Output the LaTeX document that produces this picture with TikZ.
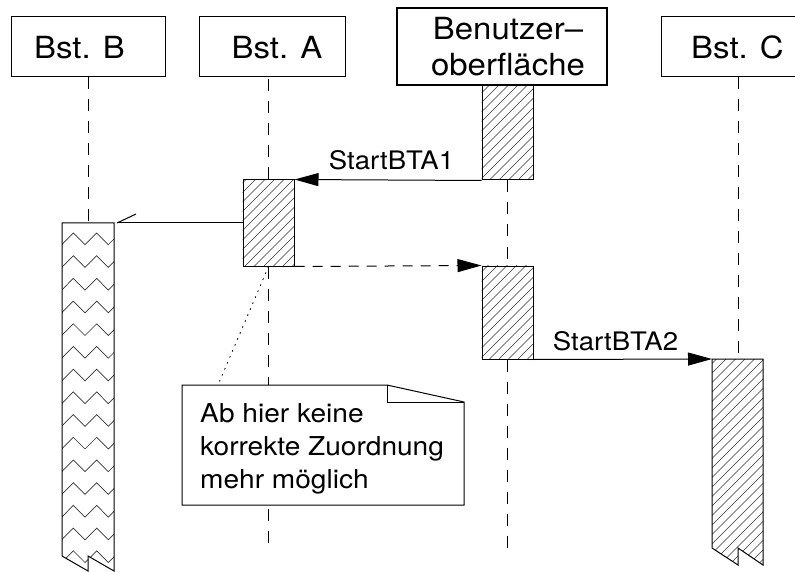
\documentclass[tikz,border=0pt]{standalone}
\usepackage{fontspec}
\setmainfont{TeX Gyre Heros}
\usetikzlibrary{arrows.meta}
\newcommand{\sx}[1]{\scalebox{1.08}[1]{#1}}
\newcommand{\hatchlines}[3]{\foreach \k in {0,...,#3}{\draw[hatchline] ({#1+9.5*\k},#2) -- ++(260,-260);}}
\begin{document}
\begin{tikzpicture}[x=1pt,y=-1pt,
  hdlbl/.style={inner sep=0pt, anchor=base, font=\fontsize{30.5}{36}\selectfont},
  msglbl/.style={inner sep=0pt, anchor=base, font=\fontsize{25.5}{30}\selectfont},
  notelbl/.style={inner sep=0pt, anchor=base west, font=\fontsize{26}{30}\selectfont},
  headbox/.style={draw, line width=1pt, inner sep=0pt},
  actbox/.style={draw, line width=1pt, inner sep=0pt, minimum width=51pt},
  life/.style={line width=0.9pt, dash pattern=on 12pt off 10pt},
  hatchline/.style={line width=0.6pt, black!80},
  zig/.style={line width=0.7pt, black!80},
  msg/.style={line width=1pt, -{Triangle[length=24pt,width=13pt]}},
]
\useasboundingbox (0,0) rectangle (795,572);

% header boxes
\node[headbox, minimum width=154pt, minimum height=60pt] (hB) at (88,47) {};
\node[headbox, minimum width=146pt, minimum height=60pt] (hA) at (272,47) {};
\node[headbox, line width=2.5pt, minimum width=210pt, minimum height=77pt] (hU) at (502,46.5) {};
\draw[line width=1pt] (800,17) -- (661,17) coordinate (hCtl) -- (661,77) coordinate (hCbl) -- (800,77);
\coordinate (hC) at (738,77);

\node[hdlbl] (tB) at (79.5,59) {\sx{Bst. B}};
\node[hdlbl] (tA) at (277,59) {\sx{Bst. A}};
\node[hdlbl] (tU1) at (508,40) {\sx{Benutzer–}};
\node[hdlbl] (tU2) at (508,76) {\sx{oberfläche}};
\node[hdlbl] (tC) at (737.5,59) {\sx{Bst. C}};

% activations
\node[actbox, minimum height=86pt] (actA) at (268.5,223) {};
\node[actbox, minimum height=94pt] (actU1) at (507.5,133) {};
\node[actbox, minimum height=93pt] (actU2) at (507.5,312.5) {};
\coordinate (bTL) at (62,223);
\coordinate (bTR) at (114,223);
\coordinate (bTop) at (88,223);
\coordinate (cTL) at (712,359);
\coordinate (cTop) at (738,359);

% lifelines
\draw[life] (hB.south) -- (bTop);
\draw[life] (actA.north) -- (actA.north |- hA.south);
\draw[life] (actA.south) -- ++(0,284) coordinate (aEnd);
\draw[life] (actU1.south) -- (actU2.north);
\draw[life] (actU2.south) -- ++(0,196) coordinate (uEnd);
\draw[life] (hC) -- (cTop);

% hatching of activations
\begin{scope}
\clip (actA.north west) rectangle (actA.south east);
\hatchlines{150}{266}{18}
\end{scope}
\begin{scope}
\clip (actU1.north west) rectangle (actU1.south east);
\hatchlines{385}{180}{18}
\end{scope}
\begin{scope}
\clip (actU2.north west) rectangle (actU2.south east);
\hatchlines{385}{359}{18}
\end{scope}
\node[actbox, minimum height=86pt] at (actA) {};
\node[actbox, minimum height=94pt] at (actU1) {};
\node[actbox, minimum height=93pt] at (actU2) {};

% Bst. C activation (torn)
\begin{scope}
\clip (712,359) -- (763,359) -- (763,565) -- (738,548) -- (738,565) -- (712,548) -- cycle;
\hatchlines{500}{566}{30}
\end{scope}
\draw[line width=1pt, line join=miter] (712,359) -- (763,359) -- (763,565) -- (738,548) -- (738,565) -- (712,548) -- cycle;

% Bst. B activation (torn, zigzag)
\begin{scope}
\clip (62,223) -- (114,223) -- (114,571) -- (88,556) -- (88,571) -- (62,556) -- cycle;
\foreach \k in {0,...,15}{
  \pgfmathsetmacro{\yy}{233+22.7*\k}
  \draw[zig] (50,\yy) -- (61.7,\yy+11.7) -- (73.3,\yy) -- (85,\yy+11.7) -- (96.7,\yy) -- (108.3,\yy+11.7) -- (120,\yy);
}
\end{scope}
\draw[line width=1pt, line join=miter] (62,223) -- (114,223) -- (114,571) -- (88,556) -- (88,571) -- (62,556) -- cycle;

% messages
\draw[msg] (actU1.south west) -- (actA.north east);
\node[msglbl] (m1) at (391.5,170) {\sx{StartBTA1}};
\draw[msg, dash pattern=on 10pt off 8pt] (actA.south east) -- (actU2.north west);
\draw[msg] (actU2.south east) -- (cTL);
\node[msglbl] (m2) at (615.5,350) {\sx{StartBTA2}};
\coordinate (bTip) at (117,223);
\draw[line width=1pt] (actA.west |- bTip) -- (bTip);
\draw[line width=1pt] (bTip) -- ++(19,-9);

% note
\coordinate (noteTop) at (218,385);
\draw[line width=1pt, fill=white, line join=miter] (182,385) -- (387,385) -- (464,402) -- (464,505) -- (182,505) -- cycle;
\draw[line width=1pt] (387,385) -- (387,402) -- (464,402);
\draw[line width=0.9pt, dash pattern=on 1.5pt off 5pt] (actA.south) -- (noteTop);
\node[notelbl] (n1) at (200,422) {\sx{Ab hier keine}};
\node[notelbl] (n2) at (200,455) {\sx{korrekte Zuordnung}};
\node[notelbl] (n3) at (200,488) {\sx{mehr möglich}};
\end{tikzpicture}
\end{document}
